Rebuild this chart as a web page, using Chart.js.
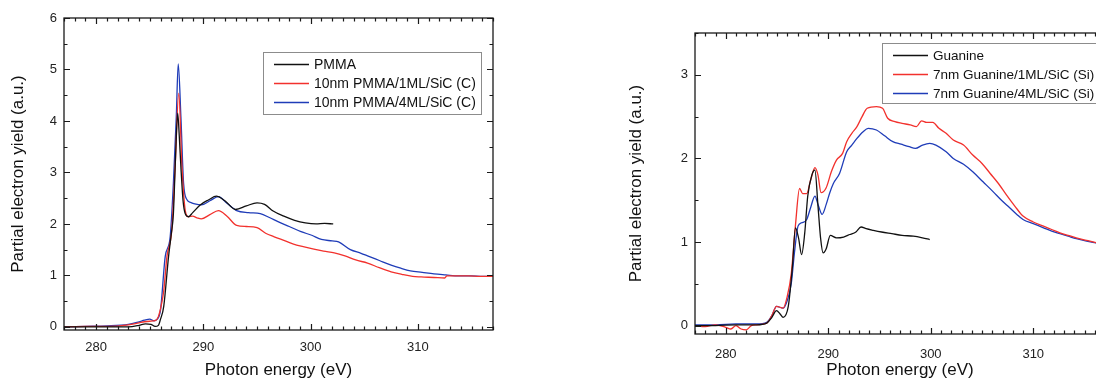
<!DOCTYPE html>
<html><head><meta charset="utf-8">
<script src="https://cdn.jsdelivr.net/npm/chart.js@4.4.1/dist/chart.umd.min.js"></script>
<style>
html,body{margin:0;padding:0;background:#fff;overflow:hidden;width:1096px;height:381px;}
canvas{position:absolute;top:0;}
#c1{left:0}
#c2{left:600px}
</style></head><body>
<canvas id="c1" width="545" height="381"></canvas>
<canvas id="c2" width="560" height="381"></canvas>
<script>
// ---------- Left panel (C K-edge, PMMA) ----------
const xTicksL = [280, 290, 300, 310];
const yTicksL = [0, 1, 2, 3, 4, 5, 6];
const labelsL = ['PMMA', '10nm PMMA/1ML/SiC (C)', '10nm PMMA/4ML/SiC (C)'];

const pmmaE = [277, 279, 281, 283, 284, 284.6, 285.1, 285.5, 285.8, 286.0, 286.3, 286.75, 287.0, 287.2, 287.4, 287.6, 287.75, 287.9, 288.1, 288.3, 288.6, 289.0, 289.7, 290.5, 291.2, 292.0, 293.0, 294.0, 295.0, 295.7, 296.5, 297.5, 298.5, 299.5, 300.5, 301.3, 302.1];
const pmmaY = [0.0, 0.0, 0.0, 0.0, 0.03, 0.06, 0.05, 0.01, 0.03, 0.15, 0.4, 1.37, 1.8, 2.2, 3.3, 4.15, 3.7, 3.1, 2.45, 2.2, 2.14, 2.22, 2.37, 2.47, 2.54, 2.45, 2.28, 2.35, 2.41, 2.38, 2.25, 2.15, 2.07, 2.02, 2.0, 2.01, 2.0];

const pmma1E = [277, 279, 281, 283, 284, 284.5, 285, 285.5, 285.8, 286.1, 286.3, 286.6, 287.05, 287.35, 287.7, 288.0, 288.3, 288.6, 289.0, 289.4, 289.8, 290.6, 291.4, 292.2, 293.1, 294.0, 295.0, 295.8, 296.6, 297.5, 298.4, 299.3, 300.3, 301.2, 302.2, 303.2, 304.2, 305.3, 306.4, 307.5, 308.5, 309.5, 310.3, 311.5, 312.5, 312.7, 313.5, 314.7, 315.8, 317];
const pmma1Y = [0.0, 0.01, 0.01, 0.04, 0.08, 0.1, 0.11, 0.12, 0.2, 0.45, 0.7, 1.37, 1.88, 3.05, 4.54, 3.11, 2.27, 2.14, 2.15, 2.12, 2.1, 2.18, 2.26, 2.15, 1.97, 1.95, 1.93, 1.82, 1.75, 1.68, 1.61, 1.56, 1.51, 1.47, 1.44, 1.38, 1.3, 1.24, 1.15, 1.07, 1.02, 0.98, 0.97, 0.96, 0.95, 0.99, 0.99, 0.99, 0.98, 0.98];

const pmma4E = [277, 279, 281, 283, 284, 284.5, 285, 285.4, 285.7, 286.0, 286.44, 286.9, 287.2, 287.47, 287.65, 287.9, 288.15, 288.47, 288.8, 289.2, 289.8, 290.6, 291.4, 292.2, 293.1, 294.2, 295.3, 296.2, 296.9, 298.0, 299.1, 300.1, 301.0, 302.0, 302.6, 303.7, 304.7, 305.3, 306.4, 307.5, 308.4, 309.3, 310.4, 311.5, 312.6, 313.8, 315, 316, 317];
const pmma4Y = [0.0, 0.01, 0.02, 0.05, 0.1, 0.13, 0.15, 0.12, 0.15, 0.33, 1.37, 1.75, 2.79, 4.08, 5.11, 4.08, 2.79, 2.47, 2.42, 2.39, 2.37, 2.45, 2.53, 2.4, 2.26, 2.22, 2.2, 2.12, 2.05, 1.95, 1.85, 1.78, 1.7, 1.67, 1.65, 1.5, 1.43, 1.38, 1.29, 1.2, 1.14, 1.09, 1.06, 1.03, 1.01, 0.99, 0.99, 0.98, 0.98];

// ---------- Right panel (Si edge, Guanine) ----------
const xTicksR = [280, 290, 300, 310];
const yTicksR = [0, 1, 2, 3];
const labelsR = ['Guanine', '7nm Guanine/1ML/SiC (Si)', '7nm Guanine/4ML/SiC (Si)'];

const guaE = [277, 279, 281, 283, 284, 284.5, 284.95, 285.3, 285.6, 286.1, 286.5, 286.8, 287.1, 287.4, 287.7, 288.0, 288.4, 288.7, 289.0, 289.25, 289.5, 289.8, 290.2, 290.8, 291.5, 292.1, 292.7, 293.2, 293.7, 294.4, 295.2, 296.2, 297.2, 298.3, 299.2, 299.9];
const guaY = [0.0, 0.0, 0.01, 0.01, 0.03, 0.1, 0.18, 0.14, 0.1, 0.23, 0.7, 1.17, 1.05, 0.85, 1.1, 1.55, 1.8, 1.86, 1.43, 1.05, 0.87, 0.92, 1.08, 1.05, 1.06, 1.09, 1.12, 1.18, 1.16, 1.14, 1.12, 1.1, 1.08, 1.07, 1.05, 1.03];

const gua1E = [277, 278, 279, 280, 280.5, 281, 281.5, 282, 282.5, 283, 284, 284.5, 284.95, 285.6, 286.0, 286.4, 286.8, 287.2, 287.5, 287.9, 288.3, 288.7, 289.0, 289.3, 289.8, 290.3, 290.8, 291.4, 291.8, 292.3, 292.8, 293.3, 293.8, 294.7, 295.3, 295.8, 296.5, 297.2, 298.0, 298.6, 299.1, 299.6, 300.2, 300.8, 301.5, 302.2, 303.2, 304.1, 305.0, 305.8, 306.6, 307.4, 308.2, 309.0, 310.0, 311.0, 311.8, 312.6, 313.4, 314.2, 315.2, 316.2, 317];
const gua1Y = [0.0, -0.01, 0.01, -0.02, -0.04, 0.0, -0.04, -0.05, 0.0, 0.01, 0.03, 0.12, 0.23, 0.21, 0.35, 0.63, 1.2, 1.64, 1.58, 1.58, 1.75, 1.89, 1.8, 1.59, 1.65, 1.84, 1.98, 2.06, 2.2, 2.3, 2.38, 2.5, 2.6, 2.62, 2.6, 2.48, 2.44, 2.42, 2.4, 2.38, 2.45, 2.43, 2.43, 2.36, 2.3, 2.22, 2.16, 2.04, 1.94, 1.82, 1.7, 1.56, 1.43, 1.31, 1.24, 1.19, 1.15, 1.11, 1.08, 1.05, 1.02, 0.99, 0.97];

const gua4E = [277, 279, 281, 283, 284, 284.5, 284.95, 285.6, 286.0, 286.4, 286.7, 287.05, 287.4, 287.9, 288.3, 288.7, 289.0, 289.4, 289.8, 290.15, 290.5, 291.1, 291.8, 292.3, 292.8, 293.4, 293.9, 294.7, 295.5, 296.3, 297.1, 297.9, 298.5, 299.2, 299.9, 300.5, 301.5, 302.2, 303.2, 304.1, 305.1, 306.1, 306.9, 307.7, 308.4, 309.0, 310.0, 311.0, 311.8, 312.6, 313.4, 314.2, 315.2, 316.1, 317];
const gua4Y = [0.01, 0.01, 0.02, 0.02, 0.04, 0.12, 0.23, 0.21, 0.3, 0.51, 0.87, 1.19, 1.23, 1.27, 1.42, 1.55, 1.45, 1.33, 1.45, 1.59, 1.7, 1.82, 2.08, 2.16, 2.24, 2.32, 2.36, 2.34, 2.27, 2.2, 2.17, 2.14, 2.12, 2.16, 2.18, 2.16, 2.08, 2.0, 1.93, 1.84, 1.72, 1.6, 1.5, 1.41, 1.33, 1.27, 1.22, 1.17, 1.13, 1.1, 1.07, 1.04, 1.01, 0.99, 0.97];

const COLORS = ['#111111', '#f2312d', '#1f3cb8'];
const FONT = "'Liberation Sans', Arial, Helvetica, sans-serif";
Chart.defaults.font.family = FONT;
Chart.defaults.color = '#111';

const pts = (E, Y) => E.map((e, i) => ({x: e, y: Y[i]}));

const framePlugin = {
  id: 'frame',
  afterDraw(chart, args, o) {
    const {ctx, chartArea: a} = chart;
    const xs = chart.scales.x, ys = chart.scales.y;
    const eps = 1e-6;
    ctx.save();
    ctx.strokeStyle = '#1a1a1a';
    ctx.lineWidth = 1.2;
    ctx.beginPath();
    const seg = (x1, y1, x2, y2) => { ctx.moveTo(x1, y1); ctx.lineTo(x2, y2); };
    const isMajor = (v, m) => Math.abs(v / m - Math.round(v / m)) < eps;
    for (let v = Math.ceil(xs.min / o.xMinor) * o.xMinor; v <= xs.max + eps; v += o.xMinor) {
      const p = Math.round(xs.getPixelForValue(v)) + 0.5;
      const L = isMajor(v, o.xMajor) ? 6 : 3.5;
      seg(p, a.bottom, p, a.bottom - L);
      seg(p, a.top, p, a.top + L);
    }
    for (let k = Math.ceil(ys.min / o.yMinor); k * o.yMinor <= ys.max + eps; k++) {
      const v = k * o.yMinor;
      const p = Math.round(ys.getPixelForValue(v)) + 0.5;
      const L = isMajor(v, o.yMajor) ? 6 : 3.5;
      seg(a.left, p, a.left + L, p);
      seg(a.right, p, a.right - L, p);
    }
    ctx.stroke();
    ctx.lineWidth = 1.3;
    ctx.strokeStyle = '#1a1a1a';
    ctx.strokeRect(a.left, a.top, a.right - a.left, a.bottom - a.top);

    const lg = o.legend;
    ctx.fillStyle = '#fff';
    ctx.fillRect(lg.x, lg.y, lg.w, lg.h);
    ctx.strokeStyle = '#8c8c8c';
    ctx.lineWidth = 1;
    ctx.strokeRect(lg.x + 0.5, lg.y + 0.5, lg.w, lg.h);
    ctx.font = lg.fontSize + 'px ' + FONT;
    ctx.textBaseline = 'middle';
    ctx.textAlign = 'left';
    chart.data.datasets.forEach((ds, i) => {
      const yy = lg.y + lg.first + i * lg.row;
      ctx.strokeStyle = ds.borderColor;
      ctx.lineWidth = 1.3;
      ctx.beginPath();
      ctx.moveTo(lg.x + lg.lx1, yy + 0.5);
      ctx.lineTo(lg.x + lg.lx2, yy + 0.5);
      ctx.stroke();
      ctx.fillStyle = '#111';
      ctx.fillText(ds.label, lg.x + lg.tx, yy + 1);
    });
    ctx.restore();
  }
};

function makeChart(id, series, labels, xTicks, yTicks, cfg) {
  return new Chart(document.getElementById(id), {
    type: 'line',
    data: {
      datasets: series.map((s, i) => ({
        label: labels[i],
        data: pts(s[0], s[1]),
        borderColor: COLORS[i],
        backgroundColor: COLORS[i],
        borderWidth: 1.3,
        pointRadius: 0,
        fill: false,
        cubicInterpolationMode: 'monotone'
      }))
    },
    options: {
      responsive: false,
      animation: false,
      devicePixelRatio: 1,
      layout: {padding: cfg.padding},
      plugins: {
        legend: {display: false},
        tooltip: {enabled: false},
        frame: cfg.frame
      },
      scales: {
        x: {
          type: 'linear',
          position: 'bottom',
          min: cfg.xMin, max: cfg.xMax,
          afterBuildTicks: s => { s.ticks = xTicks.map(v => ({value: v})); },
          afterFit: s => { s.height = cfg.xAxisH; },
          grid: {display: false, drawTicks: false},
          border: {display: false},
          ticks: {font: {size: 13}, color: '#222', padding: cfg.xTickPad, maxRotation: 0, autoSkip: false},
          title: {display: true, text: 'Photon energy (eV)', font: {size: 17}, color: '#111', padding: {top: 0, bottom: 0}}
        },
        y: {
          type: 'linear',
          position: 'left',
          min: cfg.yMin, max: cfg.yMax,
          afterBuildTicks: s => { s.ticks = yTicks.map(v => ({value: v})); },
          afterFit: s => { s.width = cfg.yAxisW; },
          grid: {display: false, drawTicks: false},
          border: {display: false},
          ticks: {font: {size: 13}, color: '#222', padding: 7, autoSkip: false},
          title: {display: true, text: 'Partial electron yield (a.u.)', font: {size: 17}, color: '#111', padding: {top: cfg.yTitlePad, bottom: 0}}
        }
      }
    },
    plugins: [framePlugin]
  });
}

makeChart('c1', [[pmmaE, pmmaY], [pmma1E, pmma1Y], [pmma4E, pmma4Y]], labelsL, xTicksL, yTicksL, {
  padding: {left: 0, top: 18, right: 52, bottom: 0},
  xMin: 277, xMax: 317, yMin: -0.06, yMax: 6,
  xAxisH: 51, yAxisW: 64, xTickPad: 10, yTitlePad: 8,
  frame: {xMinor: 1, xMajor: 10, yMinor: 0.5, yMajor: 1,
    legend: {x: 263, y: 52, w: 218, h: 62, first: 12, row: 19, lx1: 11, lx2: 46, tx: 51, fontSize: 14}}
});

makeChart('c2', [[guaE, guaY], [gua1E, gua1Y], [gua4E, gua4Y]], labelsR, xTicksR, yTicksR, {
  padding: {left: 0, top: 33, right: 55, bottom: 0},
  xMin: 277, xMax: 317, yMin: -0.1, yMax: 3.5,
  xAxisH: 47, yAxisW: 95, xTickPad: 13, yTitlePad: 26,
  frame: {xMinor: 1, xMajor: 10, yMinor: 0.5, yMajor: 1,
    legend: {x: 282, y: 43, w: 240, h: 60, first: 12, row: 19, lx1: 11, lx2: 46, tx: 51, fontSize: 13.5}}
});
</script>
</body></html>
